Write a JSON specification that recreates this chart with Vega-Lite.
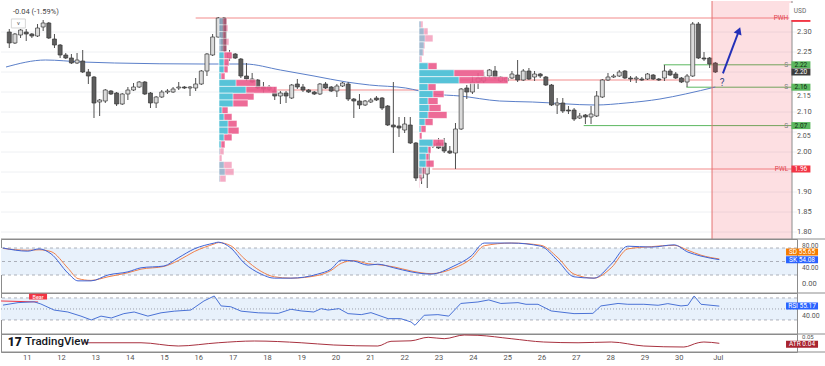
{
"$schema":"https://vega.github.io/schema/vega-lite/v6.json",
"padding":0,
"background":"white",
"spacing":0,
"bounds":"flush",
"config":{"font":"Roboto","view":{"stroke":"#8c8c8c","strokeWidth":1}},
"datasets":{
"candles":[
{"i":1,"o":2.3,"h":2.3075,"l":2.26,"c":2.2725},{"i":2,"o":2.2725,"h":2.2975,"l":2.27,"c":2.295},{"i":3,"o":2.2925,"h":2.3075,"l":2.285,"c":2.305},{"i":4,"o":2.3,"h":2.3075,"l":2.2775,"c":2.295},{"i":5,"o":2.295,"h":2.2975,"l":2.285,"c":2.29},{"i":6,"o":2.29,"h":2.32,"l":2.2875,"c":2.31},{"i":7,"o":2.3125,"h":2.33,"l":2.3025,"c":2.3225},{"i":8,"o":2.3225,"h":2.325,"l":2.2825,"c":2.285},{"i":9,"o":2.2825,"h":2.295,"l":2.26,"c":2.2675},{"i":10,"o":2.2675,"h":2.27,"l":2.235,"c":2.2425},
{"i":11,"o":2.2425,"h":2.2475,"l":2.2325,"c":2.235},{"i":12,"o":2.235,"h":2.245,"l":2.22,"c":2.2225},{"i":13,"o":2.2225,"h":2.2475,"l":2.22,"c":2.23},{"i":14,"o":2.2275,"h":2.255,"l":2.1975,"c":2.2},{"i":15,"o":2.2,"h":2.2075,"l":2.17,"c":2.19},{"i":16,"o":2.1875,"h":2.19,"l":2.085,"c":2.1225},{"i":17,"o":2.125,"h":2.1325,"l":2.09,"c":2.13},{"i":18,"o":2.1275,"h":2.1575,"l":2.1225,"c":2.155},{"i":19,"o":2.1525,"h":2.155,"l":2.1425,"c":2.145},{"i":20,"o":2.1475,"h":2.15,"l":2.115,"c":2.12},
{"i":21,"o":2.12,"h":2.1475,"l":2.1175,"c":2.145},{"i":22,"o":2.145,"h":2.1625,"l":2.13,"c":2.155},{"i":23,"o":2.155,"h":2.1725,"l":2.1525,"c":2.1625},{"i":24,"o":2.1625,"h":2.1775,"l":2.16,"c":2.175},{"i":25,"o":2.175,"h":2.1775,"l":2.1425,"c":2.145},{"i":26,"o":2.1475,"h":2.15,"l":2.11,"c":2.1225},{"i":27,"o":2.1225,"h":2.14,"l":2.11,"c":2.1375},{"i":28,"o":2.1375,"h":2.155,"l":2.135,"c":2.15},{"i":29,"o":2.15,"h":2.1575,"l":2.145,"c":2.1525},{"i":30,"o":2.15,"h":2.1625,"l":2.1475,"c":2.1575},
{"i":31,"o":2.16,"h":2.175,"l":2.155,"c":2.1625},{"i":32,"o":2.1625,"h":2.165,"l":2.1575,"c":2.16},{"i":33,"o":2.16,"h":2.165,"l":2.14,"c":2.1625},{"i":34,"o":2.16,"h":2.185,"l":2.1525,"c":2.17},{"i":35,"o":2.17,"h":2.205,"l":2.1675,"c":2.2025},{"i":36,"o":2.2025,"h":2.2475,"l":2.19,"c":2.245},{"i":37,"o":2.2425,"h":2.295,"l":2.24,"c":2.2875},{"i":38,"o":2.2875,"h":2.3375,"l":2.285,"c":2.335},{"i":39,"o":2.335,"h":2.3375,"l":2.245,"c":2.2525},{"i":40,"o":2.235,"h":2.255,"l":2.2275,"c":2.2475},
{"i":41,"o":2.245,"h":2.2475,"l":2.2325,"c":2.235},{"i":42,"o":2.2325,"h":2.235,"l":2.185,"c":2.19},{"i":43,"o":2.19,"h":2.2225,"l":2.1775,"c":2.1825},{"i":44,"o":2.1825,"h":2.1975,"l":2.1725,"c":2.175},{"i":45,"o":2.18,"h":2.1825,"l":2.1575,"c":2.16},{"i":46,"o":2.1625,"h":2.175,"l":2.1475,"c":2.1575},{"i":47,"o":2.1575,"h":2.1675,"l":2.1525,"c":2.1625},{"i":48,"o":2.1525,"h":2.1625,"l":2.13,"c":2.14},{"i":49,"o":2.14,"h":2.1525,"l":2.12,"c":2.1475},{"i":50,"o":2.1475,"h":2.1525,"l":2.1225,"c":2.14},
{"i":51,"o":2.135,"h":2.17,"l":2.1325,"c":2.1675},{"i":52,"o":2.17,"h":2.1825,"l":2.1575,"c":2.1625},{"i":53,"o":2.1625,"h":2.17,"l":2.15,"c":2.155},{"i":54,"o":2.155,"h":2.1575,"l":2.1475,"c":2.15},{"i":55,"o":2.15,"h":2.1525,"l":2.1425,"c":2.145},{"i":56,"o":2.145,"h":2.1725,"l":2.1425,"c":2.17},{"i":57,"o":2.17,"h":2.175,"l":2.1575,"c":2.16},{"i":58,"o":2.1625,"h":2.165,"l":2.15,"c":2.1525},{"i":59,"o":2.1525,"h":2.17,"l":2.1375,"c":2.165},{"i":60,"o":2.165,"h":2.175,"l":2.1625,"c":2.1725},
{"i":61,"o":2.17,"h":2.175,"l":2.1275,"c":2.1325},{"i":62,"o":2.1325,"h":2.135,"l":2.085,"c":2.1275},{"i":63,"o":2.1275,"h":2.145,"l":2.1075,"c":2.1175},{"i":64,"o":2.1175,"h":2.13,"l":2.115,"c":2.1275},{"i":65,"o":2.125,"h":2.135,"l":2.1225,"c":2.13},{"i":66,"o":2.135,"h":2.14,"l":2.1275,"c":2.13},{"i":67,"o":2.135,"h":2.1375,"l":2.105,"c":2.11},{"i":68,"o":2.115,"h":2.1175,"l":2.065,"c":2.0675},{"i":69,"o":2.0675,"h":2.175,"l":1.9975,"c":2.0625},{"i":70,"o":2.065,"h":2.0875,"l":2.0375,"c":2.06},
{"i":71,"o":2.055,"h":2.0875,"l":2.0475,"c":2.07},{"i":72,"o":2.0675,"h":2.0875,"l":2.02,"c":2.0225},{"i":73,"o":2.0225,"h":2.025,"l":1.9275,"c":1.935},{"i":74,"o":1.935,"h":1.985,"l":1.92,"c":1.97},{"i":75,"o":1.945,"h":2.02,"l":1.91,"c":2.015},{"i":76,"o":2.015,"h":2.025,"l":2.01,"c":2.02},{"i":77,"o":2.0225,"h":2.035,"l":2.0075,"c":2.01},{"i":78,"o":2.0225,"h":2.035,"l":1.9975,"c":2.0025},{"i":79,"o":2.0025,"h":2.015,"l":1.995,"c":1.9975},{"i":80,"o":1.9975,"h":2.0725,"l":1.9575,"c":2.0575},
{"i":81,"o":2.0575,"h":2.16,"l":2.055,"c":2.1575},{"i":82,"o":2.16,"h":2.1675,"l":2.1325,"c":2.15},{"i":83,"o":2.15,"h":2.19,"l":2.145,"c":2.175},{"i":84,"o":2.175,"h":2.1975,"l":2.1575,"c":2.185},{"i":85,"o":2.1775,"h":2.2,"l":2.1725,"c":2.1875},{"i":86,"o":2.19,"h":2.2075,"l":2.185,"c":2.205},{"i":87,"o":2.2025,"h":2.215,"l":2.1825,"c":2.1875},{"i":88,"o":2.1775,"h":2.19,"l":2.175,"c":2.1875},{"i":89,"o":2.1775,"h":2.1875,"l":2.175,"c":2.185},{"i":90,"o":2.185,"h":2.2025,"l":2.1825,"c":2.195},
{"i":91,"o":2.1925,"h":2.23,"l":2.175,"c":2.18},{"i":92,"o":2.18,"h":2.2075,"l":2.1775,"c":2.2025},{"i":93,"o":2.2025,"h":2.21,"l":2.18,"c":2.1825},{"i":94,"o":2.1875,"h":2.2025,"l":2.1775,"c":2.195},{"i":95,"o":2.195,"h":2.1975,"l":2.185,"c":2.19},{"i":96,"o":2.1875,"h":2.19,"l":2.165,"c":2.1675},{"i":97,"o":2.1675,"h":2.17,"l":2.115,"c":2.1175},{"i":98,"o":2.1175,"h":2.135,"l":2.095,"c":2.1225},{"i":99,"o":2.1225,"h":2.135,"l":2.0975,"c":2.1025},{"i":100,"o":2.105,"h":2.115,"l":2.095,"c":2.1025},
{"i":101,"o":2.105,"h":2.11,"l":2.0775,"c":2.0825},{"i":102,"o":2.085,"h":2.0975,"l":2.0825,"c":2.09},{"i":103,"o":2.0925,"h":2.095,"l":2.07,"c":2.0875},{"i":104,"o":2.0875,"h":2.115,"l":2.07,"c":2.095},{"i":105,"o":2.09,"h":2.1525,"l":2.0875,"c":2.14},{"i":106,"o":2.1375,"h":2.1825,"l":2.135,"c":2.18},{"i":107,"o":2.18,"h":2.1975,"l":2.1775,"c":2.1875},{"i":108,"o":2.1875,"h":2.195,"l":2.185,"c":2.19},{"i":109,"o":2.19,"h":2.205,"l":2.1875,"c":2.2},{"i":110,"o":2.2025,"h":2.205,"l":2.1825,"c":2.185},
{"i":111,"o":2.185,"h":2.19,"l":2.175,"c":2.1825},{"i":112,"o":2.1825,"h":2.19,"l":2.1725,"c":2.185},{"i":113,"o":2.1825,"h":2.1875,"l":2.1775,"c":2.18},{"i":114,"o":2.1825,"h":2.1975,"l":2.18,"c":2.195},{"i":115,"o":2.1925,"h":2.195,"l":2.18,"c":2.1825},{"i":116,"o":2.1825,"h":2.185,"l":2.1775,"c":2.18},{"i":117,"o":2.185,"h":2.2175,"l":2.1775,"c":2.2025},{"i":118,"o":2.2025,"h":2.2075,"l":2.19,"c":2.1925},{"i":119,"o":2.195,"h":2.2,"l":2.1825,"c":2.185},{"i":120,"o":2.185,"h":2.1875,"l":2.1725,"c":2.175},
{"i":121,"o":2.175,"h":2.195,"l":2.1625,"c":2.19},{"i":122,"o":2.19,"h":2.325,"l":2.1875,"c":2.32},{"i":123,"o":2.32,"h":2.325,"l":2.2325,"c":2.235},{"i":124,"o":2.235,"h":2.25,"l":2.2275,"c":2.2325},{"i":125,"o":2.235,"h":2.2375,"l":2.21,"c":2.22},{"i":126,"o":2.2225,"h":2.225,"l":2.1975,"c":2.2}
],
"ma":[{"i":0.42,"v":2.2125},{"i":7.42,"v":2.23},{"i":13.9,"v":2.225},{"i":19.65,"v":2.2225},{"i":35.4,"v":2.22},{"i":42.7,"v":2.22},{"i":49.0,"v":2.205},{"i":54.95,"v":2.19},{"i":60.7,"v":2.175},{"i":64.8,"v":2.1675},{"i":71.2,"v":2.16},{"i":76.1,"v":2.145},{"i":80.8,"v":2.14},{"i":87.8,"v":2.1275},{"i":93.6,"v":2.125},{"i":104.8,"v":2.1175},{"i":110.2,"v":2.1225},{"i":116.2,"v":2.1325},{"i":120.7,"v":2.145},{"i":126,"v":2.1625}],
"pticks":[{"v":1.8,"show":1},{"v":1.85,"show":1},{"v":1.9,"show":1},{"v":1.95,"show":0},{"v":2.0,"show":1},{"v":2.05,"show":2},{"v":2.1,"show":1},{"v":2.15,"show":2},{"v":2.2,"show":0},{"v":2.25,"show":1},{"v":2.3,"show":1}],
"days":[{"i":5,"d":"11"},{"i":11,"d":"12"},{"i":17,"d":"13"},{"i":23,"d":"14"},{"i":29,"d":"15"},{"i":35,"d":"16"},{"i":41,"d":"17"},{"i":47,"d":"18"},{"i":53,"d":"19"},{"i":59,"d":"20"},{"i":65,"d":"21"},{"i":71,"d":"22"},{"i":77,"d":"23"},{"i":83,"d":"24"},{"i":89,"d":"25"},{"i":95,"d":"26"},{"i":101,"d":"27"},{"i":107,"d":"28"},{"i":113,"d":"29"},{"i":119,"d":"30"},{"i":125.8,"d":"Jul"}],
"levels":[
{"kind":"PWH","lab":"PWH","p":2.335,"from":34.0,"to":139.58},
{"kind":"PWL","lab":"PWL","p":1.9575,"from":75.9,"to":139.58},
{"kind":"POC","lab":"","p":2.155,"from":38.53,"to":73.5},
{"kind":"POC","lab":"","p":2.18,"from":73.5,"to":125.4},
{"kind":"S","lab":"S","p":2.218,"from":116.86,"to":139.58},
{"kind":"S","lab":"S","p":2.162,"from":120.88,"to":139.58},
{"kind":"S","lab":"S","p":2.066,"from":102.7,"to":139.58}],
"tags":[
{"kind":"PWH","lab":"2.34","p":2.334},
{"kind":"S","lab":"2.22","p":2.218},
{"kind":"last","lab":"2.20","p":2.2},
{"kind":"S","lab":"2.16","p":2.162},
{"kind":"S","lab":"2.07","p":2.066},
{"kind":"PWL","lab":"1.96","p":1.9575}],
"vp1":[
{"hi":2.335,"lo":2.318,"buy":4,"vol":8,"va":0},{"hi":2.318,"lo":2.301,"buy":4,"vol":9,"va":0},{"hi":2.301,"lo":2.284,"buy":4,"vol":7,"va":0},{"hi":2.284,"lo":2.267,"buy":4,"vol":10,"va":0},{"hi":2.267,"lo":2.25,"buy":4,"vol":8,"va":0},{"hi":2.25,"lo":2.233,"buy":5,"vol":13,"va":1},{"hi":2.233,"lo":2.215,"buy":5,"vol":10,"va":1},{"hi":2.215,"lo":2.198,"buy":5,"vol":9,"va":1},{"hi":2.198,"lo":2.181,"buy":2,"vol":6,"va":1},{"hi":2.181,"lo":2.164,"buy":17,"vol":37,"va":1},{"hi":2.164,"lo":2.147,"buy":27,"vol":58,"va":1},{"hi":2.147,"lo":2.13,"buy":14,"vol":35,"va":1},{"hi":2.13,"lo":2.113,"buy":14,"vol":29,"va":1},{"hi":2.113,"lo":2.096,"buy":3,"vol":9,"va":1},{"hi":2.096,"lo":2.079,"buy":5,"vol":13,"va":1},{"hi":2.079,"lo":2.062,"buy":9,"vol":18,"va":1},{"hi":2.062,"lo":2.045,"buy":9,"vol":20,"va":1},{"hi":2.045,"lo":2.028,"buy":5,"vol":13,"va":1},{"hi":2.028,"lo":2.01,"buy":2,"vol":6,"va":1},{"hi":2.01,"lo":1.993,"buy":1,"vol":5,"va":0},{"hi":1.993,"lo":1.976,"buy":0,"vol":3,"va":0},{"hi":1.976,"lo":1.959,"buy":5,"vol":13,"va":0},{"hi":1.959,"lo":1.942,"buy":6,"vol":15,"va":0},{"hi":1.942,"lo":1.925,"buy":1,"vol":7,"va":0}],
"vp2":[
{"hi":2.3275,"lo":2.3101,"buy":2,"vol":4,"va":0},{"hi":2.3101,"lo":2.2927,"buy":5,"vol":9,"va":0},{"hi":2.2927,"lo":2.2753,"buy":6,"vol":14,"va":0},{"hi":2.2753,"lo":2.2579,"buy":5,"vol":6,"va":0},{"hi":2.2579,"lo":2.2405,"buy":4,"vol":5,"va":0},{"hi":2.2405,"lo":2.2231,"buy":1,"vol":3,"va":0},{"hi":2.2231,"lo":2.2057,"buy":9,"vol":18,"va":1},{"hi":2.2057,"lo":2.1883,"buy":35,"vol":65,"va":1},{"hi":2.1883,"lo":2.1709,"buy":40,"vol":89,"va":1},{"hi":2.1709,"lo":2.1535,"buy":9,"vol":17,"va":1},{"hi":2.1535,"lo":2.1361,"buy":14,"vol":25,"va":1},{"hi":2.1361,"lo":2.1187,"buy":9,"vol":19,"va":1},{"hi":2.1187,"lo":2.1013,"buy":10,"vol":22,"va":1},{"hi":2.1013,"lo":2.0839,"buy":9,"vol":28,"va":1},{"hi":2.0839,"lo":2.0665,"buy":6,"vol":14,"va":1},{"hi":2.0665,"lo":2.0491,"buy":2,"vol":7,"va":1},{"hi":2.0491,"lo":2.0317,"buy":0,"vol":3,"va":1},{"hi":2.0317,"lo":2.0143,"buy":14,"vol":25,"va":1},{"hi":2.0143,"lo":1.9969,"buy":9,"vol":12,"va":1},{"hi":1.9969,"lo":1.9795,"buy":7,"vol":10,"va":1},{"hi":1.9795,"lo":1.9621,"buy":7,"vol":15,"va":1},{"hi":1.9621,"lo":1.9447,"buy":3,"vol":7,"va":0},{"hi":1.9447,"lo":1.9273,"buy":0,"vol":3,"va":0},{"hi":1.9273,"lo":1.9099,"buy":0,"vol":1,"va":0}],
"stoch":[{"i":0.77,"k":80,"d":79},{"i":5.1,"k":73,"d":75},{"i":7.07,"k":78,"d":76},{"i":9.17,"k":67,"d":72},{"i":12.14,"k":24,"d":35},{"i":13.88,"k":7,"d":12},{"i":16.16,"k":7,"d":8},{"i":19.13,"k":20,"d":16},{"i":22.6,"k":27,"d":25},{"i":24.9,"k":36,"d":33},{"i":28.9,"k":40,"d":39},{"i":31.4,"k":58,"d":52},{"i":34.2,"k":78,"d":72},{"i":37.7,"k":91,"d":89},{"i":38.4,"k":93,"d":92},{"i":40.6,"k":80,"d":85},{"i":42.9,"k":47,"d":57},{"i":45.9,"k":22,"d":28},{"i":48.2,"k":13,"d":16},{"i":51.1,"k":13,"d":13},{"i":55.8,"k":22,"d":19},{"i":58.1,"k":33,"d":30},{"i":59.9,"k":53,"d":46},{"i":62.1,"k":51,"d":52},{"i":64.6,"k":42,"d":45},{"i":66.3,"k":44,"d":43},{"i":69.1,"k":36,"d":38},{"i":72.1,"k":27,"d":29},{"i":75.6,"k":22,"d":23},{"i":79.6,"k":40,"d":35},{"i":82.6,"k":62,"d":56},{"i":84.9,"k":91,"d":85},{"i":89.6,"k":91,"d":91},{"i":94.8,"k":84,"d":86},{"i":97.8,"k":51,"d":58},{"i":100.6,"k":16,"d":22},{"i":104.1,"k":13,"d":13},{"i":107.1,"k":44,"d":36},{"i":110,"k":84,"d":78},{"i":114.1,"k":82,"d":83},{"i":118.1,"k":87,"d":86},{"i":120.5,"k":71,"d":75},{"i":122.8,"k":62,"d":64},{"i":126,"k":54.08,"d":55.65}],
"rsi":[{"i":0.77,"v":57},{"i":3.4,"v":61.5},{"i":6.2,"v":63},{"i":7.4,"v":59},{"i":9.7,"v":48},{"i":12.1,"v":44.5},{"i":14.4,"v":37},{"i":16.2,"v":30},{"i":17.9,"v":37},{"i":19.7,"v":33.6},{"i":21.9,"v":41.5},{"i":23.7,"v":44.5},{"i":26.1,"v":37},{"i":28.4,"v":43},{"i":30.7,"v":46},{"i":33.6,"v":48},{"i":35.9,"v":64.5},{"i":37.7,"v":73.6},{"i":38.9,"v":55.5},{"i":40.6,"v":54},{"i":42.4,"v":46},{"i":45.4,"v":43},{"i":48.9,"v":42},{"i":51.1,"v":49.5},{"i":52.9,"v":46.4},{"i":55.1,"v":44.5},{"i":56.4,"v":50.6},{"i":57.6,"v":48},{"i":59.5,"v":50.6},{"i":61.1,"v":41.5},{"i":63.4,"v":39.7},{"i":65.1,"v":43.3},{"i":68.1,"v":32.4},{"i":70.3,"v":32.4},{"i":72.1,"v":26.4},{"i":72.8,"v":20.4},{"i":74.4,"v":38.5},{"i":76.8,"v":39.7},{"i":78.7,"v":37},{"i":80.8,"v":60},{"i":83.8,"v":62.7},{"i":85.7,"v":66.4},{"i":87.8,"v":60},{"i":90.8,"v":61.5},{"i":92.2,"v":58.5},{"i":94.3,"v":58.5},{"i":96.6,"v":46.4},{"i":100.6,"v":41.5},{"i":103.9,"v":42},{"i":105.3,"v":55.5},{"i":108.3,"v":60},{"i":110,"v":58.5},{"i":112.8,"v":58.5},{"i":115.3,"v":56.7},{"i":117,"v":59.7},{"i":119.3,"v":55.5},{"i":120.5,"v":56.7},{"i":121.6,"v":73.6},{"i":122.8,"v":58.5},{"i":126,"v":55.17}],
"atr":[{"i":15.0,"v":0.0411},{"i":24.9,"v":0.0411},{"i":31.4,"v":0.0346},{"i":38.4,"v":0.0411},{"i":44.7,"v":0.0446},{"i":52.9,"v":0.0411},{"i":58.6,"v":0.0366},{"i":66.3,"v":0.0346},{"i":68.6,"v":0.044},{"i":72.1,"v":0.045},{"i":75.1,"v":0.052},{"i":77.9,"v":0.0492},{"i":81.4,"v":0.0566},{"i":83.8,"v":0.056},{"i":89.6,"v":0.0492},{"i":95.3,"v":0.0426},{"i":101.3,"v":0.0411},{"i":107.1,"v":0.0426},{"i":112.8,"v":0.0346},{"i":119.8,"v":0.0326},{"i":122.3,"v":0.0411},{"i":123.3,"v":0.0426},{"i":126,"v":0.04}]
},
"vconcat":[
{
"width":796,"height":238,
"view":{"stroke":null},
"layer":[
{"layer":[
{"data":{"name":"pticks"},"mark":{"type":"rule","color":"#eef0f3","strokeWidth":1},
 "encoding":{
  "y":{"field":"v","type":"quantitative","scale":{"domain":[1.7825,2.3775],"nice":false,"zero":false},"axis":null}}},
{"data":{"name":"levels"},"mark":{"type":"rule","strokeWidth":1},
 "encoding":{
  "x":{"field":"from","type":"quantitative","scale":{"domain":[0.42,139.58],"nice":false,"zero":false},"axis":null},
  "x2":{"field":"to"},
  "y":{"field":"p","type":"quantitative","scale":{"domain":[1.7825,2.3775],"nice":false,"zero":false},"axis":null},
  "color":{"field":"kind","type":"nominal","scale":{"domain":["PWH","PWL","POC","S"],"range":["#f28b8b","#f28b8b","#f28b8b","#5cb860"]},"legend":null}}},
{"data":{"name":"ma"},"mark":{"type":"line","color":"#5b7fc9","strokeWidth":1,"interpolate":"monotone"},
 "encoding":{
  "x":{"field":"i","type":"quantitative","scale":{"domain":[0.42,139.58],"nice":false,"zero":false},"axis":null},
  "y":{"field":"v","type":"quantitative","scale":{"domain":[1.7825,2.3775],"nice":false,"zero":false},"axis":null}}},
{"data":{"name":"candles"},"mark":{"type":"rule","color":"#505050","strokeWidth":1},
 "encoding":{
  "x":{"field":"i","type":"quantitative","scale":{"domain":[0.42,139.58],"nice":false,"zero":false},"axis":null},
  "y":{"field":"l","type":"quantitative","scale":{"domain":[1.7825,2.3775],"nice":false,"zero":false},"axis":null},
  "y2":{"field":"h"}}},
{"data":{"name":"candles"},"mark":{"type":"bar","width":4,"stroke":"#3a3a3a","strokeWidth":0.7},
 "encoding":{
  "x":{"field":"i","type":"quantitative","scale":{"domain":[0.42,139.58],"nice":false,"zero":false},"axis":null},
  "y":{"field":"o","type":"quantitative","scale":{"domain":[1.7825,2.3775],"nice":false,"zero":false},"axis":null},
  "y2":{"field":"c"},
  "color":{"condition":{"test":"datum.c>=datum.o","value":"#dadada"},"value":"#5e5e5e"}}},
{"data":{"values":[{}]},"mark":{"type":"rect","color":"#f23645","opacity":0.155},
 "encoding":{
  "x":{"datum":125.42,"type":"quantitative","scale":{"domain":[0.42,139.58],"nice":false,"zero":false},"axis":null},
  "x2":{"datum":139.58},
  "y":{"datum":2.3775,"type":"quantitative","scale":{"domain":[1.7825,2.3775],"nice":false,"zero":false},"axis":null},
  "y2":{"datum":1.7825}}},
{"data":{"values":[{}]},"mark":{"type":"rule","color":"#e57373","strokeWidth":1},
 "encoding":{
  "x":{"datum":125.42,"type":"quantitative","scale":{"domain":[0.42,139.58],"nice":false,"zero":false},"axis":null},
  "y":{"datum":2.3775,"type":"quantitative","scale":{"domain":[1.7825,2.3775],"nice":false,"zero":false},"axis":null},
  "y2":{"datum":1.7825}}},
{"data":{"values":[{}]},"mark":{"type":"rule","color":"#8c8c8c","strokeWidth":1},
 "encoding":{
  "x":{"datum":139.58,"type":"quantitative","scale":{"domain":[0.42,139.58],"nice":false,"zero":false},"axis":null},
  "y":{"datum":2.3775,"type":"quantitative","scale":{"domain":[1.7825,2.3775],"nice":false,"zero":false},"axis":null},
  "y2":{"datum":1.7825}}},
{"data":{"name":"pticks"},"transform":[{"filter":"datum.show == 1"}],"mark":{"type":"text","fontSize":7.5,"color":"#555555","align":"left","baseline":"middle"},
 "encoding":{
  "x":{"datum":140.46,"type":"quantitative","scale":{"domain":[0.42,139.58],"nice":false,"zero":false},"axis":null},
  "y":{"field":"v","type":"quantitative","scale":{"domain":[1.7825,2.3775],"nice":false,"zero":false},"axis":null},
  "text":{"field":"v","type":"quantitative","format":".2f"}}},
{"data":{"name":"pticks"},"transform":[{"filter":"datum.show == 2"}],"mark":{"type":"text","fontSize":7,"color":"#555555","align":"left","baseline":"top","dy":-0.5},
 "encoding":{
  "x":{"datum":140.46,"type":"quantitative","scale":{"domain":[0.42,139.58],"nice":false,"zero":false},"axis":null},
  "y":{"field":"v","type":"quantitative","scale":{"domain":[1.7825,2.3775],"nice":false,"zero":false},"axis":null},
  "text":{"field":"v","type":"quantitative","format":".2f"}}},
{"data":{"name":"levels"},"transform":[{"filter":"datum.lab != ''"}],"mark":{"type":"text","align":"right","baseline":"middle","fontSize":6.5},
 "encoding":{
  "x":{"datum":138.9,"type":"quantitative","scale":{"domain":[0.42,139.58],"nice":false,"zero":false},"axis":null},
  "y":{"field":"p","type":"quantitative","scale":{"domain":[1.7825,2.3775],"nice":false,"zero":false},"axis":null},
  "text":{"field":"lab"},
  "color":{"field":"kind","type":"nominal","scale":{"domain":["PWH","PWL","S"],"range":["#e0454f","#e0454f","#808080"]},"legend":null}}},
{"data":{"values":[{}]},"mark":{"type":"rule","color":"#2430b8","strokeWidth":2},
 "encoding":{
  "x":{"datum":127.35,"type":"quantitative","scale":{"domain":[0.42,139.58],"nice":false,"zero":false},"axis":null},
  "x2":{"datum":130.1},
  "y":{"datum":2.1967,"type":"quantitative","scale":{"domain":[1.7825,2.3775],"nice":false,"zero":false},"axis":null},
  "y2":{"datum":2.3}}},
{"data":{"values":[{}]},"mark":{"type":"point","shape":"triangle-up","angle":21,"size":70,"filled":true,"opacity":1,"color":"#2430b8"},
 "encoding":{
  "x":{"datum":130.18,"type":"quantitative","scale":{"domain":[0.42,139.58],"nice":false,"zero":false},"axis":null},
  "y":{"datum":2.3037,"type":"quantitative","scale":{"domain":[1.7825,2.3775],"nice":false,"zero":false},"axis":null}}},
{"data":{"values":[{"t":"?"}]},"mark":{"type":"text","fontSize":10,"color":"#3a4785","baseline":"middle"},
 "encoding":{
  "x":{"datum":127.2,"type":"quantitative","scale":{"domain":[0.42,139.58],"nice":false,"zero":false},"axis":null},
  "y":{"datum":2.1733,"type":"quantitative","scale":{"domain":[1.7825,2.3775],"nice":false,"zero":false},"axis":null},
  "text":{"field":"t"}}},
{"data":{"name":"tags"},"mark":{"type":"tick","orient":"horizontal","size":19,"thickness":7,"opacity":1},
 "encoding":{
  "x":{"datum":141.16,"type":"quantitative","scale":{"domain":[0.42,139.58],"nice":false,"zero":false},"axis":null},
  "y":{"field":"p","type":"quantitative","scale":{"domain":[1.7825,2.3775],"nice":false,"zero":false},"axis":null},
  "color":{"field":"kind","type":"nominal","scale":{"domain":["PWH","PWL","S","last"],"range":["#f23645","#f23645","#5cb860","#3c3c3c"]},"legend":null}}},
{"data":{"name":"tags"},"mark":{"type":"text","fontSize":6.5,"baseline":"middle","align":"center"},
 "encoding":{
  "x":{"datum":141.16,"type":"quantitative","scale":{"domain":[0.42,139.58],"nice":false,"zero":false},"axis":null},
  "y":{"field":"p","type":"quantitative","scale":{"domain":[1.7825,2.3775],"nice":false,"zero":false},"axis":null},
  "text":{"field":"lab"},
  "color":{"condition":{"test":"datum.kind=='S'","value":"#102a12"},"value":"#ffffff"}}},
{"data":{"values":[{"t":"USD"}]},"mark":{"type":"tick","orient":"horizontal","size":26,"thickness":17,"opacity":1,"color":"#ffffff"},
 "encoding":{
  "x":{"datum":141.4,"type":"quantitative","scale":{"domain":[0.42,139.58],"nice":false,"zero":false},"axis":null},
  "y":{"datum":2.3513,"type":"quantitative","scale":{"domain":[1.7825,2.3775],"nice":false,"zero":false},"axis":null}}},
{"data":{"values":[{"t":"USD"}]},"mark":{"type":"text","fontSize":6.5,"color":"#666","baseline":"middle","align":"center"},
 "encoding":{
  "x":{"datum":141.0,"type":"quantitative","scale":{"domain":[0.42,139.58],"nice":false,"zero":false},"axis":null},
  "y":{"datum":2.3513,"type":"quantitative","scale":{"domain":[1.7825,2.3775],"nice":false,"zero":false},"axis":null},
  "text":{"field":"t"}}},
{"data":{"values":[{"t":"-0.04 (-1.59%)"}]},"mark":{"type":"text","fontSize":7.5,"color":"#444","baseline":"middle","align":"left"},
 "encoding":{
  "x":{"datum":1.65,"type":"quantitative","scale":{"domain":[0.42,139.58],"nice":false,"zero":false},"axis":null},
  "y":{"datum":2.35,"type":"quantitative","scale":{"domain":[1.7825,2.3775],"nice":false,"zero":false},"axis":null},
  "text":{"field":"t"}}},
{"data":{"values":[{"t":"v"}]},"mark":{"type":"tick","orient":"horizontal","size":14,"thickness":9,"opacity":1,"color":"#ffffff","stroke":"#d6d6d6","strokeWidth":1},
 "encoding":{
  "x":{"datum":2.61,"type":"quantitative","scale":{"domain":[0.42,139.58],"nice":false,"zero":false},"axis":null},
  "y":{"datum":2.3213,"type":"quantitative","scale":{"domain":[1.7825,2.3775],"nice":false,"zero":false},"axis":null}}},
{"data":{"values":[{"t":"v"}]},"mark":{"type":"text","fontSize":6,"color":"#555","baseline":"middle","align":"center"},
 "encoding":{
  "x":{"datum":2.61,"type":"quantitative","scale":{"domain":[0.42,139.58],"nice":false,"zero":false},"axis":null},
  "y":{"datum":2.3213,"type":"quantitative","scale":{"domain":[1.7825,2.3775],"nice":false,"zero":false},"axis":null},
  "text":{"field":"t"}}}
],
"resolve":{"scale":{"color":"independent"}}
},
{"data":{"name":"vp1"},"layer":[
 {"mark":{"type":"rect","color":"#ec5b8c","stroke":"white","strokeWidth":0.6},
  "encoding":{
   "x":{"field":"vol","type":"quantitative","scale":{"domain":[-218,578],"nice":false,"zero":false},"axis":null},
   "x2":{"datum":0},
   "y":{"field":"hi","type":"quantitative","scale":{"domain":[1.7825,2.3775],"nice":false,"zero":false},"axis":null},
   "y2":{"field":"lo"},
   "opacity":{"condition":{"test":"datum.va==1","value":0.9},"value":0.5}}},
 {"mark":{"type":"rect","color":"#4fc8dc","stroke":"white","strokeWidth":0.6},
  "encoding":{
   "x":{"field":"buy","type":"quantitative","scale":{"domain":[-218,578],"nice":false,"zero":false},"axis":null},
   "x2":{"datum":0},
   "y":{"field":"hi","type":"quantitative","scale":{"domain":[1.7825,2.3775],"nice":false,"zero":false},"axis":null},
   "y2":{"field":"lo"},
   "opacity":{"condition":{"test":"datum.va==1","value":0.95},"value":0.5}}}
]},
{"data":{"name":"vp2"},"layer":[
 {"mark":{"type":"rect","color":"#ec5b8c","stroke":"white","strokeWidth":0.6},
  "encoding":{
   "x":{"field":"vol","type":"quantitative","scale":{"domain":[-418,378],"nice":false,"zero":false},"axis":null},
   "x2":{"datum":0},
   "y":{"field":"hi","type":"quantitative","scale":{"domain":[1.7825,2.3775],"nice":false,"zero":false},"axis":null},
   "y2":{"field":"lo"},
   "opacity":{"condition":{"test":"datum.va==1","value":0.9},"value":0.5}}},
 {"mark":{"type":"rect","color":"#4fc8dc","stroke":"white","strokeWidth":0.6},
  "encoding":{
   "x":{"field":"buy","type":"quantitative","scale":{"domain":[-418,378],"nice":false,"zero":false},"axis":null},
   "x2":{"datum":0},
   "y":{"field":"hi","type":"quantitative","scale":{"domain":[1.7825,2.3775],"nice":false,"zero":false},"axis":null},
   "y2":{"field":"lo"},
   "opacity":{"condition":{"test":"datum.va==1","value":0.95},"value":0.5}}}
]}
],
"resolve":{"scale":{"x":"independent"}}
},
{
"width":796,"height":54,
"layer":[
{"data":{"values":[{}]},"mark":{"type":"rect","color":"#e8f1fb"},
 "encoding":{
  "x":{"datum":0.42,"type":"quantitative","scale":{"domain":[0.42,139.58],"nice":false,"zero":false},"axis":null},
  "x2":{"datum":139.58},
  "y":{"datum":80,"type":"quantitative","scale":{"domain":[-20,100],"nice":false,"zero":false},"axis":null},
  "y2":{"datum":20}}},
{"data":{"values":[{"v":80},{"v":50},{"v":20}]},"mark":{"type":"rule","color":"#9a9ea8","strokeDash":[3,3],"strokeWidth":0.8},
 "encoding":{"y":{"field":"v","type":"quantitative","scale":{"domain":[-20,100],"nice":false,"zero":false},"axis":null}}},
{"data":{"values":[{}]},"mark":{"type":"rule","color":"#8c8c8c","strokeWidth":1},
 "encoding":{
  "x":{"datum":0.42,"type":"quantitative","scale":{"domain":[0.42,139.58],"nice":false,"zero":false},"axis":null},
  "x2":{"datum":144.7},
  "y":{"datum":100,"type":"quantitative","scale":{"domain":[-20,100],"nice":false,"zero":false},"axis":null}}},
{"data":{"name":"stoch"},"mark":{"type":"line","color":"#f0804a","strokeWidth":1,"interpolate":"monotone"},
 "encoding":{
  "x":{"field":"i","type":"quantitative","scale":{"domain":[0.42,139.58],"nice":false,"zero":false},"axis":null},
  "y":{"field":"d","type":"quantitative","scale":{"domain":[-20,100],"nice":false,"zero":false},"axis":null}}},
{"data":{"name":"stoch"},"mark":{"type":"line","color":"#3f63d6","strokeWidth":1,"interpolate":"monotone"},
 "encoding":{
  "x":{"field":"i","type":"quantitative","scale":{"domain":[0.42,139.58],"nice":false,"zero":false},"axis":null},
  "y":{"field":"k","type":"quantitative","scale":{"domain":[-20,100],"nice":false,"zero":false},"axis":null}}},
{"data":{"values":[{"v":0}]},"mark":{"type":"text","fontSize":7.5,"color":"#555555","align":"left","baseline":"middle"},
 "encoding":{
  "x":{"datum":140.46,"type":"quantitative","scale":{"domain":[0.42,139.58],"nice":false,"zero":false},"axis":null},
  "y":{"field":"v","type":"quantitative","scale":{"domain":[-20,100],"nice":false,"zero":false},"axis":null},
  "text":{"field":"v","type":"quantitative","format":".2f"}}},
{"data":{"values":[{"v":80}]},"mark":{"type":"text","fontSize":6.5,"color":"#555555","align":"left","baseline":"bottom","dy":0.5},
 "encoding":{
  "x":{"datum":140.46,"type":"quantitative","scale":{"domain":[0.42,139.58],"nice":false,"zero":false},"axis":null},
  "y":{"field":"v","type":"quantitative","scale":{"domain":[-20,100],"nice":false,"zero":false},"axis":null},
  "text":{"field":"v","type":"quantitative","format":".2f"}}},
{"data":{"values":[{"v":40}]},"mark":{"type":"text","fontSize":6.5,"color":"#555555","align":"left","baseline":"top","dy":-1.5},
 "encoding":{
  "x":{"datum":140.46,"type":"quantitative","scale":{"domain":[0.42,139.58],"nice":false,"zero":false},"axis":null},
  "y":{"field":"v","type":"quantitative","scale":{"domain":[-20,100],"nice":false,"zero":false},"axis":null},
  "text":{"field":"v","type":"quantitative","format":".2f"}}},
{"data":{"values":[{"t":"SD  55.65","v":55.65}]},"mark":{"type":"tick","orient":"horizontal","size":32,"thickness":7,"opacity":1,"color":"#f57c00","yOffset":-7},
 "encoding":{
  "x":{"datum":140.46,"type":"quantitative","scale":{"domain":[0.42,139.58],"nice":false,"zero":false},"axis":null},
  "y":{"field":"v","type":"quantitative","scale":{"domain":[-20,100],"nice":false,"zero":false},"axis":null}}},
{"data":{"values":[{"t":"SD  55.65","v":55.65}]},"mark":{"type":"text","fontSize":6.5,"color":"white","baseline":"middle","align":"center","yOffset":-7},
 "encoding":{
  "x":{"datum":140.46,"type":"quantitative","scale":{"domain":[0.42,139.58],"nice":false,"zero":false},"axis":null},
  "y":{"field":"v","type":"quantitative","scale":{"domain":[-20,100],"nice":false,"zero":false},"axis":null},
  "text":{"field":"t"}}},
{"data":{"values":[{"t":"SK  54.08","v":54.08}]},"mark":{"type":"tick","orient":"horizontal","size":32,"thickness":7,"opacity":1,"color":"#2962ff"},
 "encoding":{
  "x":{"datum":140.46,"type":"quantitative","scale":{"domain":[0.42,139.58],"nice":false,"zero":false},"axis":null},
  "y":{"field":"v","type":"quantitative","scale":{"domain":[-20,100],"nice":false,"zero":false},"axis":null}}},
{"data":{"values":[{"t":"SK  54.08","v":54.08}]},"mark":{"type":"text","fontSize":6.5,"color":"white","baseline":"middle","align":"center"},
 "encoding":{
  "x":{"datum":140.46,"type":"quantitative","scale":{"domain":[0.42,139.58],"nice":false,"zero":false},"axis":null},
  "y":{"field":"v","type":"quantitative","scale":{"domain":[-20,100],"nice":false,"zero":false},"axis":null},
  "text":{"field":"t"}}}
]
},
{
"width":796,"height":41,
"layer":[
{"data":{"values":[{}]},"mark":{"type":"rect","color":"#e8f1fb"},
 "encoding":{
  "x":{"datum":0.42,"type":"quantitative","scale":{"domain":[0.42,139.58],"nice":false,"zero":false},"axis":null},
  "x2":{"datum":139.58},
  "y":{"datum":70,"type":"quantitative","scale":{"domain":[4.5,79],"nice":false,"zero":false},"axis":null},
  "y2":{"datum":30}}},
{"data":{"values":[{"v":70},{"v":30}]},"mark":{"type":"rule","color":"#9a9ea8","strokeDash":[3,3],"strokeWidth":0.8},
 "encoding":{"y":{"field":"v","type":"quantitative","scale":{"domain":[4.5,79],"nice":false,"zero":false},"axis":null}}},
{"data":{"values":[{"v":50}]},"mark":{"type":"rule","color":"#8a8e98","strokeDash":[1,2],"strokeWidth":0.8},
 "encoding":{"y":{"field":"v","type":"quantitative","scale":{"domain":[4.5,79],"nice":false,"zero":false},"axis":null}}},
{"data":{"values":[{}]},"mark":{"type":"rule","color":"#8c8c8c","strokeWidth":1},
 "encoding":{
  "x":{"datum":0.42,"type":"quantitative","scale":{"domain":[0.42,139.58],"nice":false,"zero":false},"axis":null},
  "x2":{"datum":144.7},
  "y":{"datum":79,"type":"quantitative","scale":{"domain":[4.5,79],"nice":false,"zero":false},"axis":null}}},
{"data":{"values":[{}]},"mark":{"type":"rule","color":"#f23645","strokeWidth":1},
 "encoding":{
  "x":{"datum":0.42,"type":"quantitative","scale":{"domain":[0.42,139.58],"nice":false,"zero":false},"axis":null},
  "x2":{"datum":6.9},
  "y":{"datum":64.5,"type":"quantitative","scale":{"domain":[4.5,79],"nice":false,"zero":false},"axis":null},
  "y2":{"datum":62.7}}},
{"data":{"name":"rsi"},"mark":{"type":"line","color":"#4a72d6","strokeWidth":1},
 "encoding":{
  "x":{"field":"i","type":"quantitative","scale":{"domain":[0.42,139.58],"nice":false,"zero":false},"axis":null},
  "y":{"field":"v","type":"quantitative","scale":{"domain":[4.5,79],"nice":false,"zero":false},"axis":null}}},
{"data":{"values":[{"v":40}]},"mark":{"type":"text","fontSize":7,"color":"#555555","align":"left","baseline":"top","dy":-2.5},
 "encoding":{
  "x":{"datum":140.46,"type":"quantitative","scale":{"domain":[0.42,139.58],"nice":false,"zero":false},"axis":null},
  "y":{"field":"v","type":"quantitative","scale":{"domain":[4.5,79],"nice":false,"zero":false},"axis":null},
  "text":{"field":"v","type":"quantitative","format":".2f"}}},
{"data":{"values":[{}]},"mark":{"type":"rect","color":"#f23645"},
 "encoding":{
  "x":{"datum":5.32,"type":"quantitative","scale":{"domain":[0.42,139.58],"nice":false,"zero":false},"axis":null},
  "x2":{"datum":8.47},
  "y":{"datum":77.6,"type":"quantitative","scale":{"domain":[4.5,79],"nice":false,"zero":false},"axis":null},
  "y2":{"datum":67.2}}},
{"data":{"values":[{"t":"Bear"}]},"mark":{"type":"text","fontSize":5.5,"color":"white","baseline":"middle","align":"center"},
 "encoding":{
  "x":{"datum":6.9,"type":"quantitative","scale":{"domain":[0.42,139.58],"nice":false,"zero":false},"axis":null},
  "y":{"datum":72.4,"type":"quantitative","scale":{"domain":[4.5,79],"nice":false,"zero":false},"axis":null},
  "text":{"field":"t"}}},
{"data":{"values":[{"t":"RSI  55.17","v":55.17}]},"mark":{"type":"tick","orient":"horizontal","size":32,"thickness":7,"opacity":1,"color":"#2962ff"},
 "encoding":{
  "x":{"datum":140.46,"type":"quantitative","scale":{"domain":[0.42,139.58],"nice":false,"zero":false},"axis":null},
  "y":{"field":"v","type":"quantitative","scale":{"domain":[4.5,79],"nice":false,"zero":false},"axis":null}}},
{"data":{"values":[{"t":"RSI  55.17","v":55.17}]},"mark":{"type":"text","fontSize":6.5,"color":"white","baseline":"middle","align":"center"},
 "encoding":{
  "x":{"datum":140.46,"type":"quantitative","scale":{"domain":[0.42,139.58],"nice":false,"zero":false},"axis":null},
  "y":{"field":"v","type":"quantitative","scale":{"domain":[4.5,79],"nice":false,"zero":false},"axis":null},
  "text":{"field":"t"}}}
]
},
{
"width":796,"height":18,
"layer":[
{"data":{"values":[{}]},"mark":{"type":"rule","color":"#8c8c8c","strokeWidth":1},
 "encoding":{
  "x":{"datum":0.42,"type":"quantitative","scale":{"domain":[0.42,139.58],"nice":false,"zero":false},"axis":null},
  "x2":{"datum":144.7},
  "y":{"datum":0.0586,"type":"quantitative","scale":{"domain":[0.0226,0.0586],"nice":false,"zero":false},"axis":null}}},
{"data":{"values":[{}]},"mark":{"type":"rule","color":"#8c8c8c","strokeWidth":1},
 "encoding":{
  "x":{"datum":0.42,"type":"quantitative","scale":{"domain":[0.42,139.58],"nice":false,"zero":false},"axis":null},
  "x2":{"datum":144.7},
  "y":{"datum":0.0226,"type":"quantitative","scale":{"domain":[0.0226,0.0586],"nice":false,"zero":false},"axis":null}}},
{"data":{"name":"atr"},"mark":{"type":"line","color":"#a83240","strokeWidth":1,"interpolate":"monotone"},
 "encoding":{
  "x":{"field":"i","type":"quantitative","scale":{"domain":[0.42,139.58],"nice":false,"zero":false},"axis":null},
  "y":{"field":"v","type":"quantitative","scale":{"domain":[0.0226,0.0586],"nice":false,"zero":false},"axis":null}}},
{"data":{"values":[{"v":0.05}]},"mark":{"type":"text","fontSize":6,"color":"#555555","align":"left","baseline":"bottom","dy":1.8},
 "encoding":{
  "x":{"datum":140.46,"type":"quantitative","scale":{"domain":[0.42,139.58],"nice":false,"zero":false},"axis":null},
  "y":{"field":"v","type":"quantitative","scale":{"domain":[0.0226,0.0586],"nice":false,"zero":false},"axis":null},
  "text":{"field":"v","type":"quantitative","format":".2f"}}},
{"data":{"name":"days"},"mark":{"type":"text","fontSize":7.5,"color":"#555555","align":"center","baseline":"middle"},
 "encoding":{
  "x":{"field":"i","type":"quantitative","scale":{"domain":[0.42,139.58],"nice":false,"zero":false},"axis":null},
  "y":{"datum":0.0106,"type":"quantitative","scale":{"domain":[0.0226,0.0586],"nice":false,"zero":false},"axis":null},
  "text":{"field":"d"}}},
{"data":{"values":[{"t":"ATR  0.04","v":0.04}]},"mark":{"type":"tick","orient":"horizontal","size":32,"thickness":7,"opacity":1,"color":"#a8232f","yOffset":1},
 "encoding":{
  "x":{"datum":140.46,"type":"quantitative","scale":{"domain":[0.42,139.58],"nice":false,"zero":false},"axis":null},
  "y":{"field":"v","type":"quantitative","scale":{"domain":[0.0226,0.0586],"nice":false,"zero":false},"axis":null}}},
{"data":{"values":[{"t":"ATR  0.04","v":0.04}]},"mark":{"type":"text","fontSize":6.5,"color":"white","baseline":"middle","align":"center","yOffset":1},
 "encoding":{
  "x":{"datum":140.46,"type":"quantitative","scale":{"domain":[0.42,139.58],"nice":false,"zero":false},"axis":null},
  "y":{"field":"v","type":"quantitative","scale":{"domain":[0.0226,0.0586],"nice":false,"zero":false},"axis":null},
  "text":{"field":"t"}}},
{"data":{"values":[{"t":"17"}]},"mark":{"type":"text","fontSize":12,"fontWeight":900,"color":"#131722","baseline":"middle","align":"left"},
 "encoding":{
  "x":{"datum":1.6,"type":"quantitative","scale":{"domain":[0.42,139.58],"nice":false,"zero":false},"axis":null},
  "y":{"datum":0.0426,"type":"quantitative","scale":{"domain":[0.0226,0.0586],"nice":false,"zero":false},"axis":null},
  "text":{"field":"t"}}},
{"data":{"values":[{"t":"TradingView"}]},"mark":{"type":"text","fontSize":11.5,"fontWeight":500,"color":"#131722","baseline":"middle","align":"left"},
 "encoding":{
  "x":{"datum":4.6,"type":"quantitative","scale":{"domain":[0.42,139.58],"nice":false,"zero":false},"axis":null},
  "y":{"datum":0.0426,"type":"quantitative","scale":{"domain":[0.0226,0.0586],"nice":false,"zero":false},"axis":null},
  "text":{"field":"t"}}}
]
}
]
}
